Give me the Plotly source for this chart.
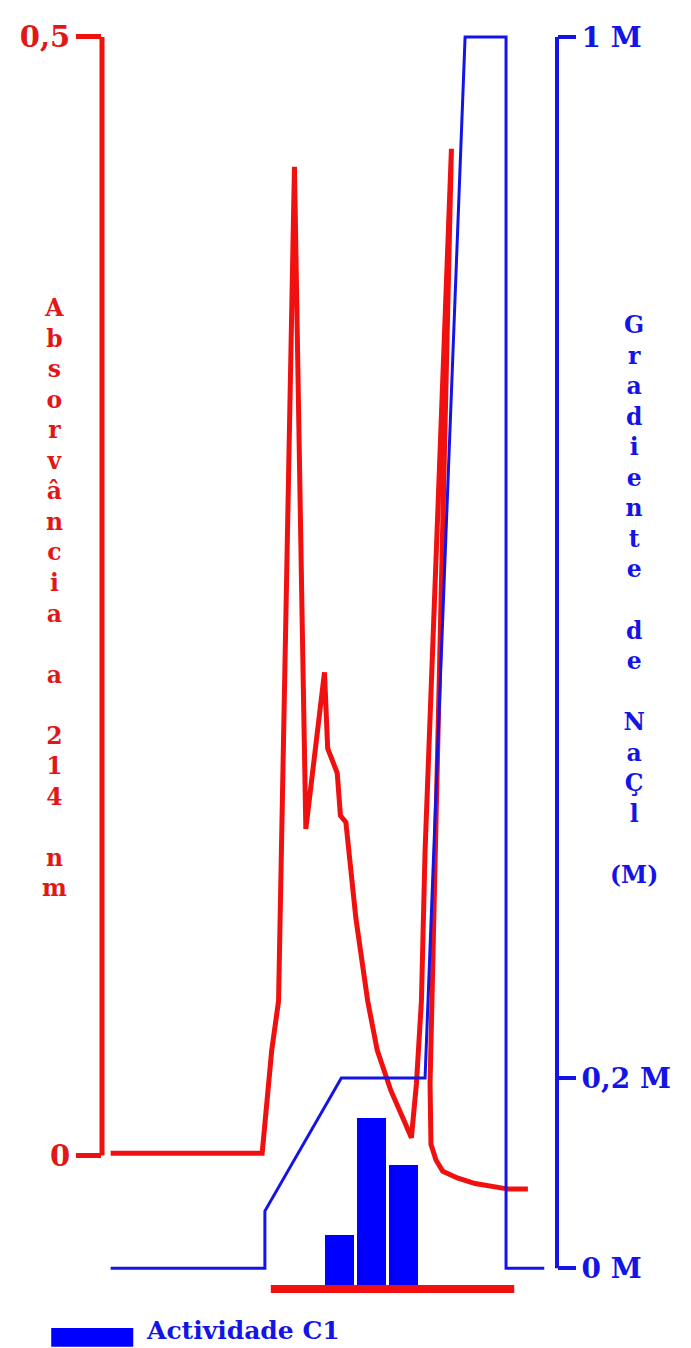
import numpy as np
import plotly.graph_objects as go

# ---------------- data ----------------
# elution position (arbitrary units along the column run)
absorb_x = [1.9, 35.2, 37.3, 38.8, 42.3, 43.3, 44.0, 44.8, 48.9, 49.6, 51.7, 52.4,
            53.6, 55.8, 58.4, 60.5, 63.5, 66.3, 68.0, 69.1, 70.2, 71.0, 73.8, 76.8,
            74.9, 73.2, 72.1, 72.3, 73.4, 74.9, 78.1, 82.0, 89.3, 93.6]
absorb_y = [0.001, 0.001, 0.047, 0.069, 0.442, 0.336, 0.238, 0.146, 0.216, 0.182,
            0.171, 0.152, 0.149, 0.106, 0.069, 0.047, 0.029, 0.016, 0.008, 0.032,
            0.069, 0.136, 0.283, 0.450, 0.283, 0.136, 0.032, 0.005, -0.002, -0.007,
            -0.010, -0.0125, -0.015, -0.015]

grad_x = [1.9, 35.8, 35.8, 52.6, 71.0, 79.8, 88.8, 88.8, 97.2]
grad_conc = [0.0, 0.0, 0.06, 0.2, 0.2, 1.0, 1.0, 0.0, 0.0]   # NaCl (M)

act_x = [52.2, 59.2, 66.2]
act_val = [0.30, 1.00, 0.72]          # Actividade C1 (relative)

pool_x = [37.1, 90.6]                  # pooled fractions

abs_ticks = [0, 0.5]
abs_ticktext = ["0", "0,5"]
grad_ticks = [0.0, 0.2, 1.0]
grad_ticktext = ["0 M", "0,2 M", "1 M"]

# broken (piecewise) NaCl scale as in the original figure
grad_break_in = [0.0, 0.2, 1.0]
grad_break_out = [0.0, 1.0, 6.4712]


def grad_scale(c):
    return np.interp(c, grad_break_in, grad_break_out)


RED = "#f01010"
RED_TXT = "#e01818"
BLUE = "#0000ff"
BLUE_LINE = "#1414e6"
FONT = "DejaVu Serif"

fig = go.Figure()

fig.add_trace(go.Scatter(x=absorb_x, y=absorb_y, mode="lines",
                         line=dict(color=RED, width=5), yaxis="y",
                         showlegend=False, name="Absorvância"))

fig.add_trace(go.Scatter(x=grad_x, y=grad_scale(grad_conc), mode="lines",
                         line=dict(color=BLUE_LINE, width=3), yaxis="y2",
                         showlegend=False, name="NaCl"))

fig.add_trace(go.Scatter(x=pool_x, y=[-0.024, -0.024], mode="lines",
                         line=dict(color=RED, width=8), yaxis="y3",
                         showlegend=False, name="pool"))

fig.add_trace(go.Bar(x=act_x, y=act_val, width=6.3, marker=dict(color=BLUE, line=dict(width=0)),
                     yaxis="y3", showlegend=False, name="Actividade C1"))

fig.update_layout(
    width=683, height=1340,
    margin=dict(l=83, r=134, t=12, b=48),
    paper_bgcolor="white", plot_bgcolor="white",
    bargap=0,
    xaxis=dict(range=[0, 100], visible=False, showgrid=False, zeroline=False),
    yaxis=dict(range=[-0.06456, 0.50534], showgrid=False, zeroline=False, showline=False,
               tickmode="array", tickvals=abs_ticks, ticktext=abs_ticktext,
               ticks="outside", ticklen=25, tickwidth=5, tickcolor=RED,
               tickfont=dict(family=FONT, size=29, color=RED_TXT, weight="bold")),
    yaxis2=dict(range=[-0.1675, 6.534], overlaying="y", side="right", anchor="x",
                showgrid=False, zeroline=False, showline=False,
                tickmode="array", tickvals=list(grad_scale(grad_ticks)), ticktext=grad_ticktext,
                ticks="outside", ticklen=18, tickwidth=4, tickcolor=BLUE_LINE,
                tickfont=dict(family=FONT, size=28, color=BLUE_LINE, weight="bold")),
    yaxis3=dict(range=[-0.0893, 7.53], overlaying="y", visible=False),
    showlegend=False,
)

# axis lines (only spanning their labelled ranges)
fig.add_shape(type="line", xref="paper", yref="y", x0=0, x1=0, y0=0, y1=0.5,
              line=dict(color=RED, width=5))
fig.add_shape(type="line", xref="paper", yref="y2", x0=1, x1=1,
              y0=float(grad_scale(0.0)), y1=float(grad_scale(1.0)),
              line=dict(color=BLUE_LINE, width=4))

left_title = ["A", "b", "s", "o", "r", "v", "â", "n", "c", "i", "a", " ", "a", " ",
              "2", "1", "4", " ", "n", "m"]
right_title = ["G", "r", "a", "d", "i", "e", "n", "t", "e", " ", "d", "e", " ",
               "N", "a", "Ç", "l", " ", "(M)"]

fig.add_annotation(xref="paper", yref="paper", x=-0.105, y=0.5508,
                   xanchor="center", yanchor="middle", showarrow=False,
                   text="<br>".join(c if c != " " else "\u00a0" for c in left_title),
                   font=dict(family=FONT, size=23.5, color=RED_TXT, weight="bold"))
fig.add_annotation(xref="paper", yref="paper", x=1.1695, y=0.5492,
                   xanchor="center", yanchor="middle", showarrow=False,
                   text="<br>".join(c if c != " " else "\u00a0" for c in right_title),
                   font=dict(family=FONT, size=23.5, color=BLUE_LINE, weight="bold"))

# legend key for the activity bars
fig.add_shape(type="rect", xref="paper", yref="paper",
              x0=-0.1116, x1=0.0687, y0=-0.0367, y1=-0.0219,
              fillcolor=BLUE, line=dict(width=0))
fig.add_annotation(xref="paper", yref="paper", x=0.0944, y=-0.0242,
                   xanchor="left", yanchor="middle", showarrow=False, borderpad=0,
                   text="Actividade C1",
                   font=dict(family=FONT, size=25, color=BLUE_LINE, weight="bold"))

fig.write_html("out.html")
